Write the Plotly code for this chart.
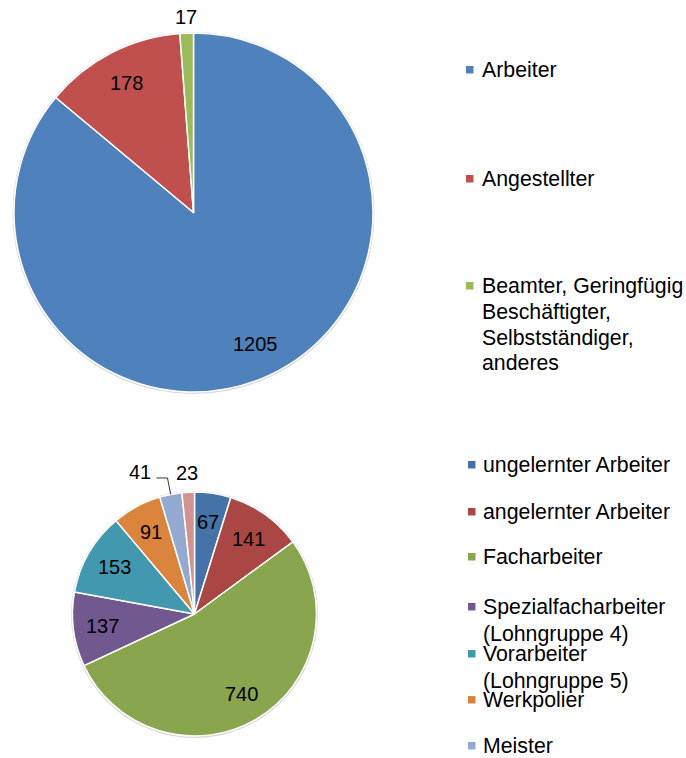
import math
import plotly.graph_objects as go

W, H = 686, 758

# ---------------- data ----------------
top_labels = ["Arbeiter", "Angestellter",
              "Beamter, Geringfügig Beschäftigter, Selbstständiger, anderes"]
top_legend_lines = [["Arbeiter"], ["Angestellter"],
                    ["Beamter, Geringfügig", "Beschäftigter,", "Selbstständiger,", "anderes"]]
top_values = [1205, 178, 17]
top_colors = ["#4F81BD", "#C0504D", "#9BBB59"]

bot_labels = ["ungelernter Arbeiter", "angelernter Arbeiter", "Facharbeiter",
              "Spezialfacharbeiter (Lohngruppe 4)", "Vorarbeiter (Lohngruppe 5)",
              "Werkpolier", "Meister", "anderes"]
bot_legend_lines = [["ungelernter Arbeiter"], ["angelernter Arbeiter"], ["Facharbeiter"],
                    ["Spezialfacharbeiter", "(Lohngruppe 4)"], ["Vorarbeiter", "(Lohngruppe 5)"],
                    ["Werkpolier"], ["Meister"]]
bot_values = [67, 141, 740, 137, 153, 91, 41, 23]
bot_colors = ["#4572A7", "#AA4643", "#89A54E", "#71588F", "#4198AF",
              "#DB843D", "#93A9CF", "#D19392"]

# ---------------- layout constants (pixels) ----------------
TOP_C, TOP_R = (193.5, 212.5), 179.5
BOT_C, BOT_R = (194.5, 614.0), 122.0
top_label_kind = ["in", "in", "out"]
bot_label_kind = ["in", "in", "in", "in", "in", "in", "leader", "out"]
top_legend_y = [70, 179, 286]
bot_legend_y = [465, 512, 557, 607, 654, 700, 746]
FONT = "Liberation Sans, Arial, sans-serif"


def px(x):
    return x / W


def py(y):
    return 1 - y / H


def domain(c, r):
    return dict(x=[px(c[0] - r), px(c[0] + r)], y=[py(c[1] + r), py(c[1] - r)])


def polar(c, r, ang):
    a = math.radians(ang)
    return c[0] + r * math.sin(a), c[1] - r * math.cos(a)


fig = go.Figure()
shapes, annotations = [], []

for labels, values, colors, c, r in [
    (top_labels, top_values, top_colors, TOP_C, TOP_R),
    (bot_labels, bot_values, bot_colors, BOT_C, BOT_R),
]:
    # faint shadow ring behind the pie
    shapes.append(dict(type="circle", xref="paper", yref="paper", layer="below",
                       x0=px(c[0] - r - 1.5), x1=px(c[0] + r + 1.5),
                       y0=py(c[1] + r + 2), y1=py(c[1] - r - 1),
                       fillcolor="#D9D9D9", line=dict(width=0)))
    fig.add_trace(go.Pie(
        labels=labels, values=values, sort=False, direction="clockwise",
        rotation=0, domain=domain(c, r), textinfo="none", showlegend=False,
        marker=dict(colors=colors, line=dict(color="white", width=1.5)),
        hoverinfo="label+value",
    ))


def add_text(x, y, txt, size, anchor="center"):
    annotations.append(dict(x=px(x), y=py(y), xref="paper", yref="paper",
                            text=txt, showarrow=False, xanchor=anchor,
                            yanchor="middle", font=dict(size=size, color="black", family=FONT)))


def pie_labels(values, kinds, c, r, inner_frac, outer_frac):
    total = float(sum(values))
    cum = 0.0
    for v, k in zip(values, kinds):
        mid = (cum + v / 2) / total * 360
        cum += v
        txt = str(v)
        if k == "in":
            x, y = polar(c, r * inner_frac, mid)
            add_text(x, y, txt, 20)
        elif k == "out":
            x, y = polar(c, r * outer_frac, mid)
            add_text(x, y, txt, 20)
        else:  # label with leader line
            x0, y0 = polar(c, r, mid)
            x1, y1 = polar(c, r * 1.137, mid)
            x2 = x1 - 11
            shapes.append(dict(type="path", xref="paper", yref="paper",
                               path=f"M {px(x0)} {py(y0)} L {px(x1)} {py(y1)} L {px(x2)} {py(y1)}",
                               line=dict(color="#333333", width=1)))
            add_text(x2 - 3, y1 - 6, txt, 20, anchor="right")


pie_labels(top_values, top_label_kind, TOP_C, TOP_R, 0.81, 1.09)
pie_labels(bot_values, bot_label_kind, BOT_C, BOT_R, 0.76, 1.16)


def legend(items, colors, ys, sq_x, txt_x, line_h, size):
    for lines, col, y in zip(items, colors, ys):
        shapes.append(dict(type="rect", xref="paper", yref="paper",
                           x0=px(sq_x), x1=px(sq_x + 7.5), y0=py(y + 3.5), y1=py(y - 4),
                           fillcolor=col, line=dict(width=0)))
        for i, t in enumerate(lines):
            add_text(txt_x, y + i * line_h, t, size, anchor="left")


legend(top_legend_lines, top_colors, top_legend_y, 466, 480, 25.8, 21.3)
legend(bot_legend_lines, bot_colors, bot_legend_y, 468, 481, 27.0, 21.3)

fig.update_layout(
    width=W, height=H, margin=dict(l=0, r=0, t=0, b=0),
    paper_bgcolor="white", plot_bgcolor="white",
    shapes=shapes, annotations=annotations,
    font=dict(family=FONT),
)

fig.write_html(
    "out.html",
    config={"displayModeBar": False},
    post_script="document.body.style.margin='0px';document.body.style.overflow='hidden';",
)
